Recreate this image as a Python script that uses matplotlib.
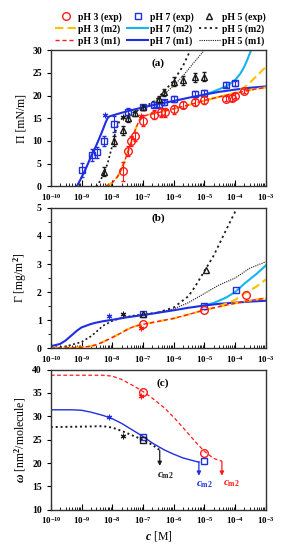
import numpy as np
import matplotlib
matplotlib.use("Agg")
import matplotlib.pyplot as plt
from matplotlib.ticker import LogLocator, MultipleLocator, NullFormatter

plt.rcParams["font.family"] = ["Liberation Serif", "DejaVu Serif"]
plt.rcParams["font.weight"] = "bold"
plt.rcParams["mathtext.fontset"] = "custom"
plt.rcParams["mathtext.rm"] = "Liberation Serif:bold"
plt.rcParams["mathtext.it"] = "Liberation Serif:italic:bold"
plt.rcParams["mathtext.bf"] = "Liberation Serif:bold"

ROJO = "#ff1a1a"
NARANJA = "#ffc000"
AZUL = "#1f2fe0"
CIAN = "#14b4ef"
NEGRO = "#1a1a1a"

# ---------------- panel (a): presion superficial ----------------
a_ph3_x = [2.2e-8, 3.2e-8, 4e-8, 5.3e-8, 1e-7, 2.2e-7, 3.8e-7, 5.3e-7, 1e-6, 2e-6, 5e-6, 1e-5, 5e-5, 8e-5, 1e-4, 2e-4]
a_ph3_y = [3.3, 7.8, 10.0, 11.0, 14.5, 15.8, 16.3, 16.3, 17.0, 18.0, 18.5, 19.0, 19.3, 19.5, 20.0, 21.0]
a_ph3_e = [2.0, 1.2, 1.0, 1.0, 1.2, 1.0, 1.0, 1.0, 1.0, 0.8, 0.8, 0.8, 0.6, 0.6, 0.6, 0.5]

a_ph7_x = [1.05e-9, 2.2e-9, 3.2e-9, 5.5e-9, 1.1e-8, 3.2e-8, 1e-7, 2.2e-7, 3.2e-7, 5e-7, 1e-6, 5e-6, 1e-5, 5e-5, 1e-4]
a_ph7_y = [3.6, 7.0, 7.5, 10.0, 13.8, 16.3, 17.4, 18.0, 18.0, 18.5, 19.2, 20.3, 20.6, 22.4, 22.7]
a_ph7_e = [1.5, 1.3, 1.2, 1.2, 1.8, 1.0, 0.6, 0.6, 0.6, 0.6, 0.6, 0.6, 0.6, 0.5, 0.5]

a_ph5_x = [5.5e-9, 1.1e-8, 2.2e-8, 3.2e-8, 5.3e-8, 1e-7, 3.2e-7, 5e-7, 1e-6, 2e-6, 5e-6, 1e-5]
a_ph5_y = [3.2, 10.0, 12.4, 15.0, 16.1, 17.4, 19.2, 20.7, 23.0, 23.4, 24.0, 24.1]
a_ph5_e = [1.0, 1.2, 1.0, 0.8, 0.6, 0.6, 0.8, 0.8, 1.0, 1.0, 1.0, 1.0]

a_m1_ph7_x = [7e-10, 1e-9, 1.5e-9, 2e-9, 3e-9, 4e-9, 5e-9, 6e-9, 7e-9, 8e-9, 1e-8, 2e-8, 5e-8, 1e-7, 3e-7, 1e-6, 3e-6, 1e-5, 3e-5, 1e-4, 3e-4, 1e-3]
a_m1_ph7_y = [0.0, 2.0, 4.5, 6.5, 9.0, 11.0, 12.6, 14.0, 15.0, 15.4, 15.6, 16.2, 16.9, 17.4, 18.1, 18.8, 19.5, 20.2, 20.8, 21.3, 21.7, 22.0]
a_m2_ph7_x = [1e-5, 2e-5, 5e-5, 1e-4, 1.5e-4, 2e-4, 2.5e-4, 3.3e-4]
a_m2_ph7_y = [20.2, 20.9, 22.0, 23.4, 24.9, 26.4, 27.9, 30.0]

a_m1_ph3_x = [6e-9, 1e-8, 1.5e-8, 2e-8, 3e-8, 4e-8, 5e-8, 6e-8, 7e-8, 8e-8, 1e-7, 1.5e-7, 3e-7, 1e-6, 3e-6, 1e-5, 3e-5, 1e-4, 3e-4, 1e-3]
a_m1_ph3_y = [0.0, 0.8, 2.2, 3.8, 7.0, 9.5, 11.5, 13.0, 14.0, 14.8, 15.4, 15.8, 16.2, 17.1, 17.9, 18.9, 19.7, 20.5, 21.2, 21.8]
a_m2_ph3_x = [1e-5, 3e-5, 1e-4, 2e-4, 3e-4, 5e-4, 1e-3]
a_m2_ph3_y = [18.9, 19.7, 20.6, 21.8, 22.8, 24.3, 26.3]

a_ph5_base_x = [3e-9, 4e-9, 5e-9, 7e-9, 1e-8, 1.3e-8, 1.7e-8, 2.2e-8, 3e-8, 5e-8, 1e-7, 2e-7]
a_ph5_base_y = [0.0, 1.2, 2.5, 5.0, 9.0, 12.3, 14.3, 15.1, 15.7, 16.3, 17.3, 18.5]
a_m2_ph5_x = [2e-7, 3e-7, 5e-7, 1e-6, 2e-6, 3.5e-6]
a_m2_ph5_y = [18.5, 19.4, 21.0, 23.3, 26.5, 30.0]
a_m1_ph5_x = [2e-7, 3e-7, 5e-7, 1e-6, 2e-6, 4e-6, 1e-5]
a_m1_ph5_y = [18.5, 19.1, 20.3, 22.2, 24.3, 26.8, 30.0]

a_ast_x = [6e-9, 2.2e-8, 8.7e-8]
a_ast_y = [15.7, 15.2, 15.4]

# ---------------- panel (b): adsorcion ----------------
b_ph3_x = [1e-7, 1e-5, 2.2e-4]
b_ph3_y = [0.85, 1.37, 1.88]
b_ph7_x = [1e-7, 1e-5, 1.1e-4]
b_ph7_y = [1.2, 1.49, 2.06]
b_ph5_x = [1e-7, 1.1e-5]
b_ph5_y = [1.21, 2.78]

b_m1_ph7_x = [1e-10, 2e-10, 3e-10, 5e-10, 7e-10, 1e-9, 2e-9, 3e-9, 5e-9, 1e-8, 3e-8, 1e-7, 3e-7, 1e-6, 3e-6, 1e-5, 3e-5, 1e-4, 3e-4, 1e-3]
b_m1_ph7_y = [0.07, 0.15, 0.27, 0.48, 0.62, 0.74, 0.86, 0.91, 0.96, 1.01, 1.1, 1.18, 1.26, 1.35, 1.44, 1.52, 1.58, 1.62, 1.66, 1.69]
b_m2_ph7_x = [1e-5, 2e-5, 5e-5, 1e-4, 2e-4, 5e-4, 1e-3]
b_m2_ph7_y = [1.53, 1.61, 1.8, 2.0, 2.3, 2.65, 2.95]

b_m1_ph3_x = [1e-10, 1e-9, 2e-9, 3e-9, 5e-9, 1e-8, 2e-8, 3e-8, 5e-8, 1e-7, 3e-7, 1e-6, 3e-6, 1e-5, 3e-5, 1e-4, 3e-4, 1e-3]
b_m1_ph3_y = [0.0, 0.03, 0.07, 0.12, 0.22, 0.38, 0.55, 0.66, 0.77, 0.85, 0.95, 1.06, 1.2, 1.36, 1.48, 1.6, 1.7, 1.78]
b_m2_ph3_x = [3e-5, 1e-4, 2e-4, 5e-4, 1e-3]
b_m2_ph3_y = [1.49, 1.72, 1.95, 2.2, 2.45]

b_ph5_base_x = [1e-10, 3e-10, 1e-9, 2e-9, 3e-9, 5e-9, 1e-8, 2e-8, 5e-8, 1e-7, 3e-7]
b_ph5_base_y = [0.02, 0.06, 0.22, 0.42, 0.58, 0.8, 0.97, 1.08, 1.16, 1.2, 1.27]
b_m2_ph5_x = [3e-7, 1e-6, 3e-6, 5e-6, 1e-5, 2e-5, 5e-5, 1.15e-4]
b_m2_ph5_y = [1.27, 1.45, 1.85, 2.2, 2.75, 3.3, 4.2, 5.0]
b_m1_ph5_x = [3e-7, 1e-6, 3e-6, 1e-5, 3e-5, 1e-4, 3e-4, 1e-3]
b_m1_ph5_y = [1.27, 1.4, 1.62, 1.95, 2.25, 2.5, 2.85, 3.08]

b_ast_x = [8e-9, 2.2e-8, 8.7e-8]
b_ast_y = [1.13, 1.2, 0.71]

# ---------------- panel (c): area molar ----------------
c_ph3_x = [1e-7, 1e-5]
c_ph3_y = [35.2, 22.2]
c_ph7_x = [1e-7, 1e-5]
c_ph7_y = [25.6, 20.4]
c_ph5_x = [1e-7]
c_ph5_y = [24.9]

c_ph3_lx = [1e-10, 1e-9, 5e-9, 1e-8, 2e-8, 5e-8, 1e-7, 2e-7, 5e-7, 1e-6, 2e-6, 5e-6, 1e-5, 2e-5, 3.7e-5]
c_ph3_ly = [38.8, 38.8, 38.8, 38.6, 37.9, 36.5, 35.3, 33.9, 31.8, 29.8, 27.6, 24.6, 22.5, 21.0, 20.4]
c_ph7_lx = [1e-10, 5e-10, 1e-9, 2e-9, 5e-9, 1e-8, 2e-8, 5e-8, 1e-7, 2e-7, 5e-7, 1e-6, 2e-6, 5e-6, 6.6e-6]
c_ph7_ly = [31.4, 31.4, 31.3, 30.9, 30.2, 29.5, 28.5, 26.9, 25.7, 24.3, 22.8, 21.9, 21.1, 20.4, 20.2]
c_ph5_lx = [1e-10, 1e-9, 5e-9, 1e-8, 2e-8, 5e-8, 1e-7, 2e-7, 3.5e-7]
c_ph5_ly = [27.7, 27.8, 27.9, 27.6, 26.9, 25.8, 25.0, 23.9, 22.8]

c_ast_x = [8.7e-8, 8e-9, 2.2e-8]
c_ast_y = [34.3, 29.8, 25.7]

# concentracion cm2 para cada pH: (x, inicio flecha, fin flecha, x texto, y texto)
cm2_x = [3.5e-7, 6.6e-6, 3.7e-5]
cm2_y0 = [22.7, 20.3, 20.4]
cm2_y1 = [19.4, 17.3, 17.3]
cm2_tx = [5.2e-7, 1.0e-5, 7.5e-5]
cm2_ty = [17.2, 15.3, 15.5]
cm2_col = [NEGRO, AZUL, ROJO]


def formato_ejes(ax, ymin, ymax, paso, menor=None):
    ax.set_xscale("log")
    ax.set_xlim(1e-10, 1e-3)
    ax.set_ylim(ymin, ymax)
    ax.xaxis.set_major_locator(LogLocator(base=10, numticks=20))
    ax.xaxis.set_minor_locator(LogLocator(base=10, subs=np.arange(2, 10), numticks=20))
    ax.xaxis.set_minor_formatter(NullFormatter())
    ax.yaxis.set_major_locator(MultipleLocator(paso))
    if menor:
        ax.yaxis.set_minor_locator(MultipleLocator(menor))
    ax.tick_params(axis="x", which="both", direction="in", labelsize=6.5, pad=4)
    ax.tick_params(axis="x", which="major", length=4)
    ax.tick_params(axis="x", which="minor", length=2)
    ax.tick_params(axis="y", which="both", direction="out", labelsize=7, length=3)
    ax.tick_params(axis="y", which="minor", length=2)
    for s in ax.spines.values():
        s.set_linewidth(1.0)
        s.set_color("#333333")


def asteriscos(ax, xs, ys, colores):
    for x, y, c in zip(xs, ys, colores):
        ax.plot(x, y, marker=(6, 2, 0), ms=4, mew=0.8, color=c, linestyle="none")


fig = plt.figure(figsize=(2.89, 5.5), dpi=100)
ax_a = fig.add_axes([0.176, 0.661, 0.744, 0.248])
ax_b = fig.add_axes([0.176, 0.367, 0.744, 0.255])
ax_c = fig.add_axes([0.176, 0.073, 0.744, 0.255])

mk = dict(fillstyle="none", markeredgewidth=1.0, linestyle="none")
eb = dict(elinewidth=0.8, capsize=1.5, capthick=0.8)

# ---- (a)
ax = ax_a
formato_ejes(ax, 0, 30, 5)
ax.plot(a_ph5_base_x, a_ph5_base_y, color=NEGRO, lw=1.2, ls=(0, (1.2, 1.5)))
ax.plot(a_m2_ph5_x, a_m2_ph5_y, color=NEGRO, lw=1.3, ls=(0, (1.2, 1.8)))
ax.plot(a_m1_ph5_x, a_m1_ph5_y, color=NEGRO, lw=0.8, ls=(0, (1, 1)))
ax.plot(a_m2_ph7_x, a_m2_ph7_y, color=CIAN, lw=1.5)
ax.plot(a_m1_ph7_x, a_m1_ph7_y, color=AZUL, lw=1.5)
ax.plot(a_m1_ph3_x, a_m1_ph3_y, color=NARANJA, lw=1.5, ls=(0, (4, 2)))
ax.plot(a_m2_ph3_x, a_m2_ph3_y, color=NARANJA, lw=1.5, ls=(0, (4, 2)))
ax.plot(a_m1_ph3_x, a_m1_ph3_y, color=ROJO, lw=1.0, ls=(0, (3, 2)))
ax.errorbar(a_ph7_x, a_ph7_y, yerr=a_ph7_e, marker="s", ms=5, color=AZUL, ecolor=AZUL, **mk, **eb)
ax.errorbar(a_ph5_x, a_ph5_y, yerr=a_ph5_e, marker="^", ms=5, color=NEGRO, ecolor=NEGRO, **mk, **eb)
ax.errorbar(a_ph3_x, a_ph3_y, yerr=a_ph3_e, marker="o", ms=5.5, color=ROJO, ecolor=ROJO, **mk, **eb)
asteriscos(ax, a_ast_x, a_ast_y, [AZUL, NEGRO, ROJO])
ax.text(0.5, 0.9, "(a)", transform=ax.transAxes, ha="center", va="center", fontsize=8)
ax.set_ylabel("Π [mN/m]", fontsize=8.5, labelpad=3)

# ---- (b)
ax = ax_b
formato_ejes(ax, 0, 5, 1, 0.5)
ax.plot(b_ph5_base_x, b_ph5_base_y, color=NEGRO, lw=1.2, ls=(0, (1.2, 1.5)))
ax.plot(b_m2_ph5_x, b_m2_ph5_y, color=NEGRO, lw=1.3, ls=(0, (1.2, 1.8)))
ax.plot(b_m1_ph5_x, b_m1_ph5_y, color=NEGRO, lw=0.8, ls=(0, (1, 1)))
ax.plot(b_m2_ph7_x, b_m2_ph7_y, color=CIAN, lw=1.5)
ax.plot(b_m1_ph7_x, b_m1_ph7_y, color=AZUL, lw=1.5)
ax.plot(b_m1_ph3_x, b_m1_ph3_y, color=NARANJA, lw=1.5, ls=(0, (4, 2)))
ax.plot(b_m2_ph3_x, b_m2_ph3_y, color=NARANJA, lw=1.5, ls=(0, (4, 2)))
ax.plot(b_m1_ph3_x, b_m1_ph3_y, color=ROJO, lw=1.0, ls=(0, (3, 2)))
ax.plot(b_ph7_x, b_ph7_y, marker="s", ms=5, color=AZUL, **mk)
ax.plot(b_ph5_x, b_ph5_y, marker="^", ms=5, color=NEGRO, **mk)
ax.plot(b_ph3_x, b_ph3_y, marker="o", ms=5.5, color=ROJO, **mk)
asteriscos(ax, b_ast_x, b_ast_y, [AZUL, NEGRO, ROJO])
ax.text(0.5, 0.93, "(b)", transform=ax.transAxes, ha="center", va="center", fontsize=8)
ax.set_ylabel("Γ [mg/m$^2$]", fontsize=8.5, labelpad=6)

# ---- (c)
ax = ax_c
formato_ejes(ax, 10, 40, 5)
ax.plot(c_ph3_lx, c_ph3_ly, color=ROJO, lw=0.9, ls=(0, (3, 2)))
ax.plot(c_ph7_lx, c_ph7_ly, color=AZUL, lw=1.0)
ax.plot(c_ph5_lx, c_ph5_ly, color=NEGRO, lw=1.4, ls=(0, (1, 1.5)))
ax.plot(c_ph3_x, c_ph3_y, marker="o", ms=5.5, color=ROJO, **mk)
ax.plot(c_ph7_x, c_ph7_y, marker="s", ms=5, color=AZUL, **mk)
ax.plot(c_ph5_x, c_ph5_y, marker="s", ms=4.5, color=NEGRO, **mk)
asteriscos(ax, c_ast_x, c_ast_y, [ROJO, AZUL, NEGRO])
for x, y0, y1, tx, ty, c in zip(cm2_x, cm2_y0, cm2_y1, cm2_tx, cm2_ty, cm2_col):
    ax.annotate("", xy=(x, y1), xytext=(x, y0),
                arrowprops=dict(arrowstyle="-|>", color=c, lw=0.9, mutation_scale=6,
                                shrinkA=0, shrinkB=0))
    ax.text(tx, ty, r"$c_{\mathrm{m2}}$", color=c, fontsize=8, ha="center", va="center")
ax.text(0.52, 0.9, "(c)", transform=ax.transAxes, ha="center", va="center", fontsize=8)
ax.set_ylabel(r"$\omega$ [nm$^2$/molecule]", fontsize=8.5, labelpad=3)
ax.set_xlabel(r"$c$ [M]", fontsize=8.5, labelpad=2)

# ---- leyenda comun
h = [
    plt.Line2D([], [], marker="o", ms=5.5, color=ROJO, **mk),
    plt.Line2D([], [], color=NARANJA, lw=1.5, ls=(0, (4, 2))),
    plt.Line2D([], [], color=ROJO, lw=1.0, ls=(0, (3, 2))),
    plt.Line2D([], [], marker="s", ms=5, color=AZUL, **mk),
    plt.Line2D([], [], color=CIAN, lw=1.5),
    plt.Line2D([], [], color=AZUL, lw=1.5),
    plt.Line2D([], [], marker="^", ms=5, color=NEGRO, **mk),
    plt.Line2D([], [], color=NEGRO, lw=1.3, ls=(0, (1.2, 1.8))),
    plt.Line2D([], [], color=NEGRO, lw=0.8, ls=(0, (1, 1))),
]
etiquetas = ["pH 3 (exp)", "pH 3 (m2)", "pH 3 (m1)",
             "pH 7 (exp)", "pH 7 (m2)", "pH 7 (m1)",
             "pH 5 (exp)", "pH 5 (m2)", "pH 5 (m1)"]
fig.legend(h, etiquetas, ncol=3, loc="upper center", bbox_to_anchor=(0.555, 0.988),
           frameon=False, fontsize=7, handlelength=2.2, handletextpad=0.2,
           columnspacing=0.5, labelspacing=0.25, borderaxespad=0.2)

fig.savefig("out.png", dpi=100)
